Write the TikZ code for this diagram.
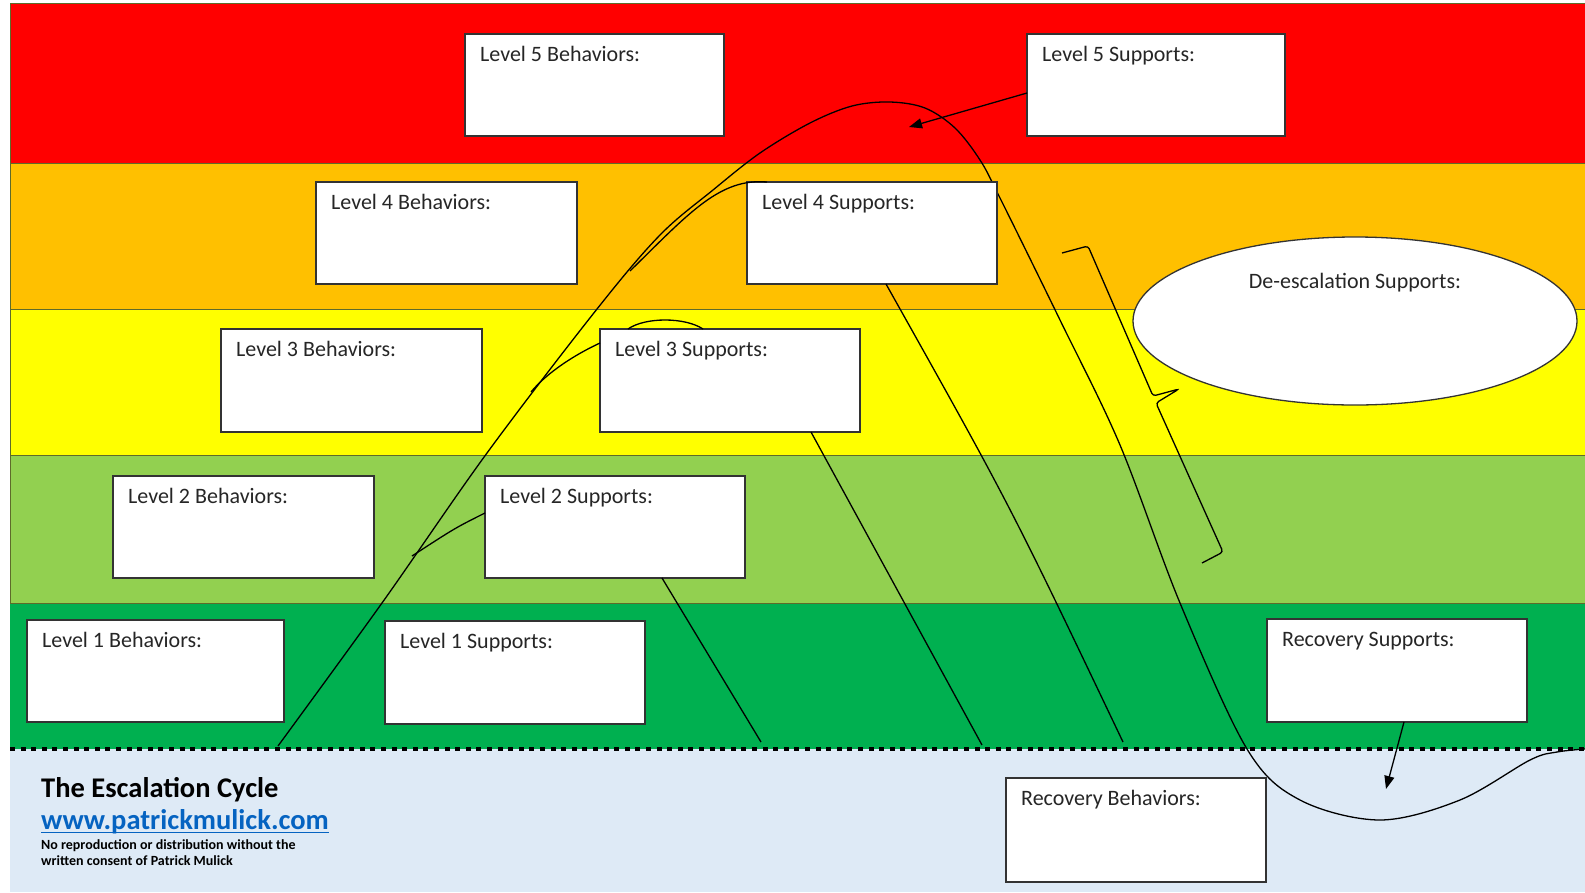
\documentclass[tikz,border=0pt]{standalone}
\usepackage{fontspec}
\setmainfont{Carlito}
\usetikzlibrary{shapes.geometric,arrows.meta}
\definecolor{cRed}{HTML}{FF0000}
\definecolor{cOrange}{HTML}{FFC000}
\definecolor{cYellow}{HTML}{FFFF00}
\definecolor{cLGreen}{HTML}{92D050}
\definecolor{cGreen}{HTML}{00B050}
\definecolor{cBlue}{HTML}{DEEAF6}
\definecolor{cSep}{HTML}{5E6B2A}
\definecolor{cUrl}{HTML}{0563C1}
\begin{document}
\begin{tikzpicture}[x=1pt,y=-1pt,
  box/.style={draw=black!80, line width=1.4pt, fill=white, anchor=north west,
    minimum width=259pt, minimum height=102pt, inner sep=0pt, outer sep=0pt},
  lbl/.style={anchor=base west, xshift=15pt, yshift=-27pt, inner sep=0pt,
    text=black!85, font=\fontsize{22}{24}\selectfont},
  esc/.style={line width=1.3pt, draw=black},
  tip/.style={-{Triangle[length=13pt,width=10pt]}},
  band/.style={draw=cSep, line width=0.8pt},
  foot/.style={anchor=base west, inner sep=0pt}]
\useasboundingbox (0,0) rectangle (1585,892);
\fill[white] (0,0) rectangle (1585,892);
% bands
\fill[cBlue] (10,749) rectangle (1585,892);
\filldraw[band, fill=cRed] (10,3) rectangle (1590,163);
\filldraw[band, fill=cOrange] (10,163) rectangle (1590,309);
\filldraw[band, fill=cYellow] (10,309) rectangle (1590,455);
\filldraw[band, fill=cLGreen] (10,455) rectangle (1590,603);
\fill[cGreen] (10,603) rectangle (1585,749);
\draw[cSep, line width=0.8pt] (10,603) -- (1585,603);
\draw[black, line width=4pt, dash pattern=on 5pt off 5.6pt] (10,749) -- (1585,749);

% main escalation curve
\draw[esc] plot[smooth, tension=0.55] coordinates {
  (278,746) (382,603) (487,453) (597,309) (660,235) (713,190) (760,153)
  (810,123) (852,106) (890,102) (925,108) (955,128) (980,160) (1000,198)
  (1060,320) (1120,445) (1180,603) (1247,749) (1300,800) (1380,820)
  (1460,800) (1530,760) (1557,752) (1585,749)};

% boxes
\node[box, label={[lbl]north west:{Level 5 Behaviors:}}] (b5) at (465,34) {};
\node[box, minimum width=258pt, label={[lbl]north west:{Level 5 Supports:}}] (s5) at (1027,34) {};
\node[box, minimum width=261pt, label={[lbl]north west:{Level 4 Behaviors:}}] (b4) at (316,182) {};
\node[box, minimum width=250pt, label={[lbl]north west:{Level 4 Supports:}}] (s4) at (747,182) {};
\node[box, minimum width=261pt, minimum height=103pt, label={[lbl]north west:{Level 3 Behaviors:}}] (b3) at (221,329) {};
\node[box, minimum width=260pt, minimum height=103pt, label={[lbl]north west:{Level 3 Supports:}}] (s3) at (600,329) {};
\node[box, minimum width=261pt, label={[lbl]north west:{Level 2 Behaviors:}}] (b2) at (113,476) {};
\node[box, minimum width=260pt, label={[lbl]north west:{Level 2 Supports:}}] (s2) at (485,476) {};
\node[box, minimum width=257pt, label={[lbl]north west:{Level 1 Behaviors:}}] (b1) at (27,620) {};
\node[box, minimum width=260pt, minimum height=103pt, label={[lbl]north west:{Level 1 Supports:}}] (s1) at (385,621) {};
\node[box, minimum width=260pt, minimum height=103pt, label={[lbl]north west:{Recovery Supports:}}] (rs) at (1267,619) {};
\node[box, minimum width=260pt, minimum height=104pt, label={[lbl]north west:{Recovery Behaviors:}}] (rb) at (1006,778) {};

\node[ellipse, draw=black!80, line width=1.3pt, fill=white, minimum width=444pt,
  minimum height=168pt, inner sep=0pt,
  label={[anchor=base, yshift=38pt, inner sep=0pt, text=black!85, font=\fontsize{22}{24}\selectfont]center:{De-escalation Supports:}}]
  (des) at (1355,321) {};

% connectors
\coordinate (p5) at (909,127);
\draw[esc, tip] ([yshift=-8pt]s5.west) -- (p5);
\coordinate (p4) at (630,271);
\draw[esc] ([xshift=20pt]s4.north west) .. controls (720,178) and (690,212) .. (p4);
\coordinate (p3) at (531,392);
\draw[esc] ([yshift=-14pt]s3.north west) .. controls (570,357) and (545,375) .. (p3);
\draw[esc] ([xshift=28pt]s3.north west) .. controls (645,317) and (685,317) .. ([xshift=103pt]s3.north west);
\coordinate (p2) at (412,556);
\draw[esc] ([yshift=-37pt]s2.north west) .. controls (455,528) .. (p2);
\coordinate (q2) at (761,742);
\draw[esc] ([xshift=177pt]s2.south west) -- (q2);
\coordinate (q3) at (982,745);
\draw[esc] ([xshift=211pt]s3.south west) -- (q3);
\coordinate (q4) at (1123,742);
\draw[esc] ([xshift=139pt]s4.south west) .. controls (1010,505) .. (q4);
\coordinate (pr) at (1386,789);
\draw[esc, tip] ([xshift=137pt]rs.south west) -- (pr);

% bracket
\draw[esc, rounded corners=3pt] (1062,253) -- (1088,246) -- (1153,396) -- (1179,389)
  -- (1156,403) -- (1223,552) -- (1202,563);

% footer text
\node[foot, font=\bfseries\fontsize{28.5}{30}\selectfont] (title) at (41,797) {The Escalation Cycle};
\node[foot, font=\bfseries\fontsize{28.5}{30}\selectfont, text=cUrl] (url) at (41,829) {www.patrickmulick.com};
\draw[cUrl, line width=1.6pt] ([yshift=-3.5pt]url.base west) -- ([yshift=-3.5pt]url.base east);
\node[foot, font=\bfseries\fontsize{14}{15}\selectfont] (note1) at (41,849) {No reproduction or distribution without the};
\node[foot, font=\bfseries\fontsize{14}{15}\selectfont] (note2) at (41,865) {written consent of Patrick Mulick};
\end{tikzpicture}
\end{document}
